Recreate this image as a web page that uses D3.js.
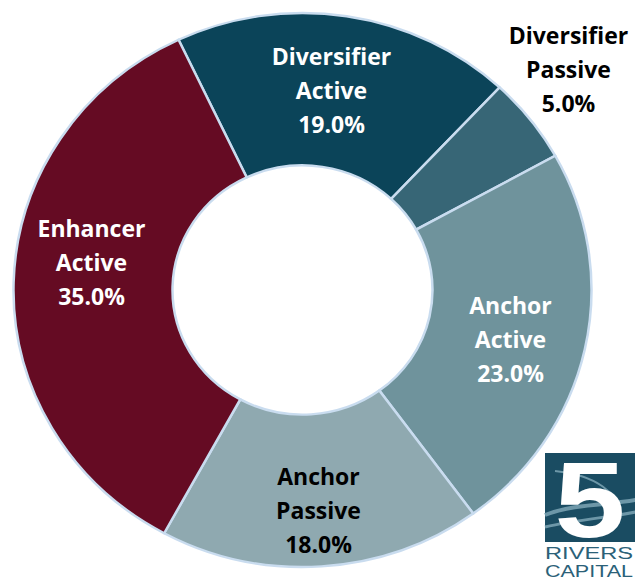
<!DOCTYPE html>
<html>
<head>
<meta charset="utf-8">
<script src="https://cdn.jsdelivr.net/npm/d3@7"></script>
<style>
  body { margin: 0; background: #fff; }
  svg { display: block; }
  .label { font-family: "Open Sans", sans-serif; font-weight: bold; font-size: 23px; }
</style>
</head>
<body>
<div id="chart"></div>
<script>
(function () {
  const categories = ["Diversifier Active", "Diversifier Passive", "Anchor Active", "Anchor Passive", "Enhancer Active"];
  const values = [19.0, 5.0, 23.0, 18.0, 35.0];
  const colors = ["#0b4459", "#376676", "#6f939c", "#8fa9b0", "#650b23"];
  const textColors = ["#ffffff", "#000000", "#ffffff", "#000000", "#ffffff"];

  const width = 635;
  const height = 580;
  const cx = 302.5, cy = 290;
  const outer = 289, inner = 130;
  const squash = 277 / 289;
  const startDeg = -25.4;

  const svg = d3.select("#chart").append("svg")
    .attr("width", width)
    .attr("height", height);

  const data = categories.map(function (c, i) {
    return {name: c, value: values[i], color: colors[i], text: textColors[i]};
  });

  const pie = d3.pie()
    .value(function (d) { return d.value; })
    .sort(null)
    .startAngle(startDeg * Math.PI / 180)
    .endAngle((startDeg + 360) * Math.PI / 180);

  const arc = d3.arc()
    .innerRadius(inner)
    .outerRadius(outer);

  const donut = svg.append("g")
    .attr("transform", "translate(" + cx + "," + cy + ") scale(1," + squash + ")");

  const arcs = pie(data);

  donut.selectAll("path")
    .data(arcs)
    .enter().append("path")
    .attr("d", arc)
    .attr("fill", function (d) { return d.data.color; })
    .attr("stroke", "#c9dcef")
    .attr("stroke-width", 2.5);

  // label positions, relative to chart centre
  const labelPos = [[29, -199], [266, -220], [208, 50], [16, 221], [-211, -27]];
  const lineGap = 34;

  const labels = svg.append("g");
  arcs.forEach(function (d, i) {
    const lines = d.data.name.split(" ").concat([d.data.value.toFixed(1) + "%"]);
    const t = labels.append("text")
      .attr("class", "label")
      .attr("text-anchor", "middle")
      .attr("fill", d.data.text)
      .attr("x", cx + labelPos[i][0])
      .attr("y", cy + labelPos[i][1]);
    lines.forEach(function (l, j) {
      t.append("tspan")
        .attr("x", cx + labelPos[i][0])
        .attr("dy", j === 0 ? (-lineGap + 8) : lineGap)
        .text(l);
    });
  });

  // logo
  const logo = svg.append("g").attr("transform", "translate(545,453)");
  logo.append("rect")
    .attr("width", 95).attr("height", 89)
    .attr("fill", "#1a4c62");
  logo.append("path")
    .attr("d", "M0,62 C30,50 70,52 95,46")
    .attr("fill", "none").attr("stroke", "#6d97a8").attr("stroke-width", 4);
  logo.append("path")
    .attr("d", "M0,74 C35,66 70,64 95,58")
    .attr("fill", "none").attr("stroke", "#6d97a8").attr("stroke-width", 3);
  logo.append("path")
    .attr("d", "M10,18 C50,22 75,40 74,62")
    .attr("fill", "none").attr("stroke", "#6d97a8").attr("stroke-width", 2);
  logo.append("text")
    .attr("transform", "translate(45,84) scale(1.18,1)")
    .attr("text-anchor", "middle")
    .attr("font-family", "'Liberation Sans', sans-serif")
    .attr("font-weight", "bold")
    .attr("font-size", 108)
    .attr("fill", "#ffffff")
    .text("5");
  logo.append("text")
    .attr("x", 0).attr("y", 106)
    .attr("font-family", "'Liberation Sans', sans-serif")
    .attr("font-size", 16)
    .attr("fill", "#2b6178")
    .attr("textLength", 88)
    .attr("lengthAdjust", "spacingAndGlyphs")
    .text("RIVERS");
  logo.append("text")
    .attr("x", 0).attr("y", 124)
    .attr("font-family", "'Liberation Sans', sans-serif")
    .attr("font-size", 16)
    .attr("fill", "#2b6178")
    .attr("textLength", 88)
    .attr("lengthAdjust", "spacingAndGlyphs")
    .text("CAPITAL");
})();
</script>
</body>
</html>
